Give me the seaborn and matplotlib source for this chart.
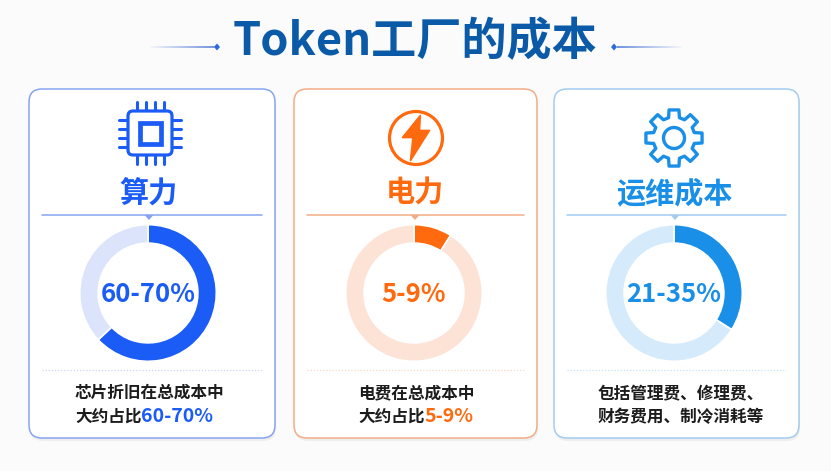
import numpy as np
import matplotlib
matplotlib.use("Agg")
import matplotlib.pyplot as plt
import matplotlib.patches as mpatches
from matplotlib.collections import LineCollection
import seaborn as sns

sns.set_theme(style="white")
plt.rcParams['font.family'] = ['Noto Sans CJK SC', 'DejaVu Sans']

# data
title = "Token工厂的成本"
categories = ["算力", "电力", "运维成本"]
share_labels = ["60-70%", "5-9%", "21-35%"]
shares = [63, 9, 34]          # filled part of each ring (%)
note_line1 = ["芯片折旧在总成本中", "电费在总成本中", "包括管理费、修理费、"]
note_line2 = ["大约占比", "大约占比", "财务费用、制冷消耗等"]
note_hi = ["60-70%", "5-9%", ""]

main_colors = ["#1b5cf6", "#ff6a0f", "#1a8fe8"]
light_colors = ["#dbe4fb", "#fde3d6", "#d5ebfc"]
edge_colors = ["#86a4f0", "#f3ad86", "#a2cdf1"]
dot_colors = ["#c9d6f3", "#f8d9c8", "#c8e2f6"]

W, H = 831, 471
fig = plt.figure(figsize=(W / 100, H / 100), dpi=100)
fig.patch.set_facecolor("#fbfbfc")
ax = fig.add_axes([0, 0, 1, 1])
ax.set_xlim(0, W)
ax.set_ylim(H, 0)
ax.axis("off")

# title + decorations
ax.text(415, 42, title, ha="center", va="center", fontsize=32.5,
        fontweight="heavy", color="#0b5aa8")
for x0, x1, xd in [(150, 215, 217), (682, 617, 614)]:
    xs = np.linspace(x0, x1, 30)
    segs = [[(xs[i], 47), (xs[i + 1], 47)] for i in range(len(xs) - 1)]
    alphas = np.linspace(0.05, 1, len(segs))
    cols = [(0.35, 0.5, 0.85, a) for a in alphas]
    ax.add_collection(LineCollection(segs, colors=cols, linewidths=1.2))
    ax.add_patch(mpatches.Polygon([(xd - 3, 47), (xd, 43.5), (xd + 3, 47), (xd, 50.5)],
                                  closed=True, color="#2b6ad8", lw=0))

card_left = [29, 294, 554]
card_right = [275, 537, 799]
card_top, card_bot = 89, 438
cxs = [149, 415, 675]
text_left = [75, 358, 598]

for i in range(3):
    l, r = card_left[i], card_right[i]
    cx = cxs[i]
    # shadow
    ax.add_patch(mpatches.FancyBboxPatch((l + 1, card_top + 3), r - l, card_bot - card_top,
                                         boxstyle="round,pad=0,rounding_size=13",
                                         fc="#000000", ec="none", alpha=0.05))
    ax.add_patch(mpatches.FancyBboxPatch((l, card_top), r - l, card_bot - card_top,
                                         boxstyle="round,pad=0,rounding_size=13",
                                         fc="white", ec=edge_colors[i], lw=1.1))
    # heading
    ax.text(cx, 193, categories[i], ha="center", va="center", fontsize=21,
            fontweight="bold", color=main_colors[i])
    ax.plot([l + 13, r - 13], [215, 215], color=edge_colors[i], lw=1.1)
    ax.add_patch(mpatches.Polygon([(cx - 4.5, 215), (cx + 4.5, 215), (cx, 220)],
                                  closed=True, color=edge_colors[i], lw=0))
    ax.plot([l + 13, r - 13], [370, 370], color=dot_colors[i], lw=0.9, ls=(0, (1, 1.5)))

    # bottom notes
    ax.text(text_left[i], 393, note_line1[i], ha="left", va="center",
            fontsize=12, fontweight="bold", color="#1c1c1c")
    t2 = ax.text(text_left[i], 417, note_line2[i], ha="left", va="center",
                 fontsize=12, fontweight="bold", color="#1c1c1c")
    if note_hi[i]:
        ax.annotate(note_hi[i], xy=(1, 0.5), xycoords=t2, ha="left", va="center",
                    fontsize=14, color=main_colors[i], fontweight="bold")

    # donut
    dax = fig.add_axes([(cx - 1 - 69) / W, (H - 293 - 69) / H, 138 / W, 138 / H])
    dax.pie([shares[i], 100 - shares[i]], colors=[main_colors[i], light_colors[i]],
            startangle=90, counterclock=False, radius=1,
            wedgeprops=dict(width=0.27, edgecolor="white", linewidth=1.2))
    dax.set_xlim(-1.01, 1.01)
    dax.set_ylim(-1.01, 1.01)
    dax.axis("off")
    ax.text(cx - 1, 294, share_labels[i], ha="center", va="center", fontsize=18.5,
            fontweight="heavy", color=main_colors[i])

# icon 1: chip
c = main_colors[0]
ix, iy = 150, 133
ax.add_patch(mpatches.FancyBboxPatch((ix - 22, iy - 22), 44, 44,
                                     boxstyle="round,pad=0,rounding_size=5",
                                     fc="white", ec=c, lw=2.3))
ax.add_patch(mpatches.Rectangle((ix - 10.5, iy - 10.5), 21, 21, fc="none", ec=c, lw=3.4))
for o in [-13.5, -4.5, 4.5, 13.5]:
    ax.plot([ix + o, ix + o], [iy - 23, iy - 31], color=c, lw=2.2, solid_capstyle="round")
    ax.plot([ix + o, ix + o], [iy + 23, iy + 31], color=c, lw=2.2, solid_capstyle="round")
    ax.plot([ix - 23, ix - 31], [iy + o, iy + o], color=c, lw=2.2, solid_capstyle="round")
    ax.plot([ix + 23, ix + 31], [iy + o, iy + o], color=c, lw=2.2, solid_capstyle="round")

# icon 2: lightning in circle
c = main_colors[1]
ix, iy = 416, 138
ax.add_patch(mpatches.Circle((ix, iy), 26.5, fc="white", ec=c, lw=2.3))
bolt = [(4.3, -22.5), (-13.5, -0.5), (-3, -0.5), (-5.5, 22.5), (13.5, -7.5), (3.5, -7.5)]
ax.add_patch(mpatches.Polygon([(ix + p[0], iy + p[1]) for p in bolt], closed=True,
                              fc=c, ec=c, lw=1.2, joinstyle="round"))

# icon 3: gear
c = main_colors[2]
ix, iy = 674, 138
pts = []
for k in range(8):
    a = 90 + k * 45
    for ang, rr in [(a - 15, 21), (a - 10, 28.5), (a + 10, 28.5), (a + 15, 21)]:
        t = np.deg2rad(ang)
        pts.append((ix + rr * np.cos(t), iy - rr * np.sin(t)))
ax.add_patch(mpatches.Polygon(pts, closed=True, fc="white", ec=c, lw=2.4, joinstyle="round"))
ax.add_patch(mpatches.Circle((ix, iy), 10.5, fc="white", ec=c, lw=2.4))

fig.savefig("out.png", dpi=100, facecolor=fig.get_facecolor())
